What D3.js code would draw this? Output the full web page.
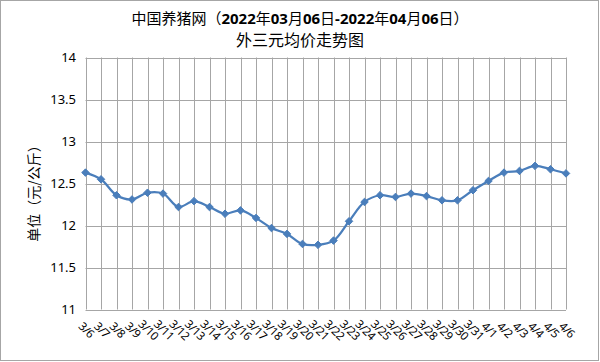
<!DOCTYPE html>
<html>
<head>
<meta charset="utf-8">
<script src="https://cdn.jsdelivr.net/npm/d3@7"></script>
<style>
  body { margin: 0; background: #fff; }
  text { font-family: "Noto Sans", "Noto Sans CJK SC", sans-serif; fill: #000; }
</style>
</head>
<body>
<div id="chart"></div>
<script>
// data
const dates = ['3/6','3/7','3/8','3/9','3/10','3/11','3/12','3/13','3/14','3/15','3/16','3/17',
  '3/18','3/19','3/20','3/21','3/22','3/23','3/24','3/25','3/26','3/27','3/28','3/29','3/30','3/31',
  '4/1','4/2','4/3','4/4','4/5','4/6'];
const prices = [12.63,12.55,12.36,12.31,12.39,12.38,12.22,12.29,12.22,12.14,12.18,12.09,
  11.97,11.90,11.78,11.77,11.82,12.05,12.28,12.36,12.34,12.38,12.35,12.30,12.30,12.42,
  12.53,12.63,12.65,12.71,12.67,12.62];
const yTicks = [11, 11.5, 12, 12.5, 13, 13.5, 14];
// title pieces: [text, bold?]
const titleLine1 = [['中国养猪网（', false], ['2022', true], ['年', false], ['03', true], ['月', false],
  ['06', true], ['日', false], ['-2022', true], ['年', false], ['04', true], ['月', false],
  ['06', true], ['日）', false]];
const titleLine2 = '外三元均价走势图';
const yLabel = '单位（元/公斤）';

const width = 600, height = 362;
const margin = {top: 57.5, right: 34, bottom: 52.5, left: 85.5};

const svg = d3.select('#chart').append('svg')
  .attr('width', width).attr('height', height);

// outer frame
svg.append('rect')
  .attr('x', 0.5).attr('y', 0.5)
  .attr('width', width - 2).attr('height', height - 2)
  .attr('fill', '#fff').attr('stroke', '#a6a6a6');

const x = d3.scalePoint(dates, [margin.left, width - margin.right]);
const y = d3.scaleLinear([11, 14], [height - margin.bottom, margin.top]);

// grid
const grid = svg.append('g').attr('stroke', '#a6a6a6').attr('stroke-width', 1);
grid.selectAll('line.h').data(yTicks).join('line')
  .attr('x1', margin.left).attr('x2', width - margin.right)
  .attr('y1', d => Math.round(y(d)) + 0.5).attr('y2', d => Math.round(y(d)) + 0.5);
grid.selectAll('line.v').data(dates).join('line')
  .attr('x1', d => Math.round(x(d)) + 0.5).attr('x2', d => Math.round(x(d)) + 0.5)
  .attr('y1', y(14)).attr('y2', y(11));

// y axis labels
svg.append('g').selectAll('text').data(yTicks).join('text')
  .attr('x', 76).attr('y', d => y(d)).attr('dy', '0.35em')
  .attr('text-anchor', 'end').style('font-size', '13px')
  .text(d => d);

// x axis labels, rotated
svg.append('g').selectAll('text').data(dates).join('text')
  .attr('transform', d => `translate(${x(d) + 1},${330}) rotate(45)`)
  .attr('text-anchor', 'middle').attr('dy', '0.35em')
  .style('font-size', '11.5px').style('letter-spacing', '-0.3px')
  .text(d => d);

// series line
const line = d3.line()
  .x((d, i) => x(dates[i]))
  .y(d => y(d))
  .curve(d3.curveCatmullRom.alpha(0.5));

svg.append('path')
  .datum(prices)
  .attr('fill', 'none').attr('stroke', '#4a7ebb')
  .attr('stroke-width', 2.25).attr('stroke-linejoin', 'round')
  .attr('d', line);

svg.append('g').selectAll('path').data(prices).join('path')
  .attr('d', d3.symbol(d3.symbolDiamond2, 36))
  .attr('transform', (d, i) => `translate(${x(dates[i])},${y(d)})`)
  .attr('fill', '#4a7ebb').attr('stroke', '#4a7ebb');

// titles
svg.append('text')
  .attr('x', 300).attr('y', 19).attr('dy', '0.35em')
  .attr('text-anchor', 'middle').style('font-size', '15px')
  .style('font-family', '"Noto Sans CJK SC", sans-serif')
  .selectAll('tspan').data(titleLine1).join('tspan')
  .style('font-weight', d => d[1] ? 'bold' : 'normal')
  .style('font-family', d => d[1] ? '"Noto Sans", sans-serif' : '"Noto Sans CJK SC", sans-serif')
  .text(d => d[0]);
svg.append('text')
  .attr('x', 300).attr('y', 40).attr('dy', '0.35em')
  .attr('text-anchor', 'middle').style('font-size', '16px')
  .style('font-family', '"Noto Sans CJK SC", sans-serif')
  .text(titleLine2);

svg.append('text')
  .attr('transform', `translate(34,190) rotate(-90)`)
  .attr('text-anchor', 'middle').attr('dy', '0.35em')
  .style('font-size', '14px')
  .style('font-family', '"Noto Sans CJK SC", sans-serif')
  .text(yLabel);
</script>
</body>
</html>
